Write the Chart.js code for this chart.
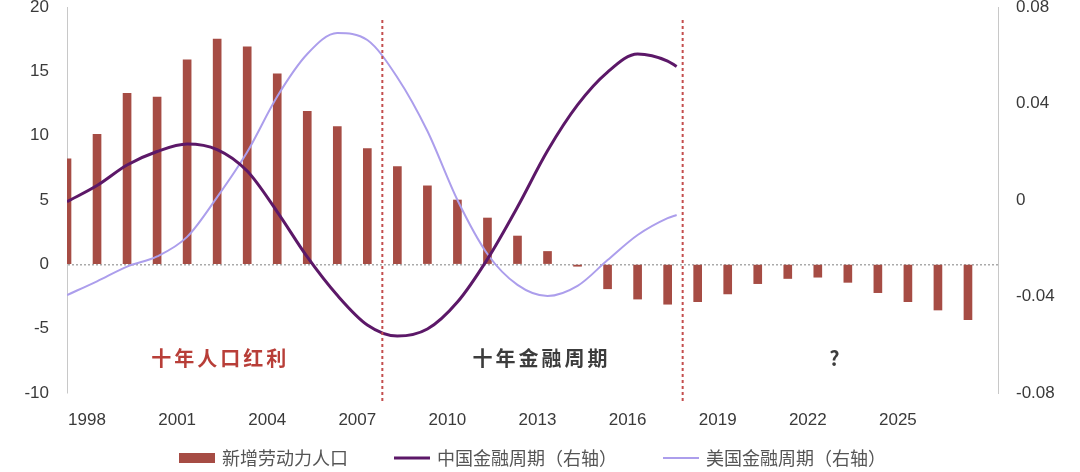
<!DOCTYPE html>
<html>
<head>
<meta charset="utf-8">
<script src="https://cdn.jsdelivr.net/npm/chart.js@4.4.1/dist/chart.umd.min.js"></script>
<style>
  html, body { margin: 0; padding: 0; background: #fff; }
  #wrap { width: 1080px; height: 472px; }
</style>
</head>
<body>
<div id="wrap"><canvas id="myChart"></canvas></div>
<script>
// 新增劳动力人口 (left axis)
var years = [1997, 1998, 1999, 2000, 2001, 2002, 2003, 2004, 2005, 2006, 2007, 2008, 2009, 2010, 2011, 2012,
             2013, 2014, 2015, 2016, 2017, 2018, 2019, 2020, 2021, 2022, 2023, 2024, 2025, 2026, 2027];
var laborValues = [8.2, 10.1, 13.3, 13.0, 15.9, 17.5, 16.9, 14.8, 11.9, 10.7, 9.0, 7.6, 6.1, 5.0, 3.6, 2.2,
                   1.0, -0.15, -1.9, -2.7, -3.1, -2.9, -2.3, -1.5, -1.1, -1.0, -1.4, -2.2, -2.9, -3.55, -4.3];

// 金融周期 (right axis)
var cycleYears = [1997, 1998, 1999, 2000, 2001, 2002, 2003, 2004, 2005, 2006, 2007, 2008, 2009, 2010, 2011,
                  2012, 2013, 2014, 2015, 2016, 2017, 2017.3];
var chinaCycle = [-0.0007, 0.0060, 0.0145, 0.0201, 0.0232, 0.0209, 0.0120, -0.0049, -0.0236, -0.0395, -0.0518,
                  -0.0564, -0.0535, -0.0423, -0.0245, -0.0029, 0.0204, 0.0394, 0.0530, 0.0605, 0.0576, 0.0553];
var usCycle = [-0.0394, -0.0337, -0.0276, -0.0234, -0.0153, 0.0012, 0.0199, 0.0429, 0.0605, 0.0692, 0.0663,
               0.0508, 0.0286, 0.0, -0.0224, -0.0352, -0.0398, -0.0356, -0.0249, -0.0145, -0.0075, -0.0062];

var seriesNames = ['新增劳动力人口', '中国金融周期（右轴）', '美国金融周期（右轴）'];

// period dividers and notes
var dividerYears = [2007.5, 2017.5];
var noteLabels = ['十年人口红利', '十年金融周期', '?'];
var noteYears = [2002.1, 2012.8, 2022.6];
var noteLevel = -7.35;

var colors = {
    bar: 'rgb(166, 76, 68)',
    china: 'rgb(92, 24, 104)',
    us: 'rgb(172, 158, 236)',
    divider: 'rgb(196, 78, 78)',
    noteRed: 'rgb(184, 62, 56)',
    noteDark: 'rgb(60, 60, 60)'
};

function toPoints(xs, ys) {
    return xs.map(function(x, i) { return {x: x, y: ys[i]}; });
}

var tickFont = {family: '"Liberation Sans", Arial, sans-serif', size: 17, lineHeight: 0.8};

var periodPlugin = {
    id: 'periods',
    afterDatasetsDraw: function(chart) {
        var ctx = chart.ctx;
        var xs = chart.scales.x, ys = chart.scales.y;
        ctx.save();
        ctx.strokeStyle = colors.divider;
        ctx.lineWidth = 2;
        ctx.setLineDash([3, 3]);
        dividerYears.forEach(function(yr) {
            var px = xs.getPixelForValue(yr);
            ctx.beginPath();
            ctx.moveTo(px, chart.chartArea.top + 13);
            ctx.lineTo(px, chart.chartArea.bottom + 9);
            ctx.stroke();
        });
        ctx.setLineDash([]);
        ctx.textAlign = 'center';
        ctx.textBaseline = 'middle';
        ctx.font = 'bold 20px "Noto Sans CJK SC", sans-serif';
        ctx.letterSpacing = '3px';
        noteLabels.forEach(function(t, i) {
            ctx.fillStyle = i === 0 ? colors.noteRed : colors.noteDark;
            ctx.fillText(t, xs.getPixelForValue(noteYears[i]), ys.getPixelForValue(noteLevel));
        });
        ctx.restore();
    }
};

// legend drawn by hand so the spacing can follow the original
var legendPlugin = {
    id: 'bottomLegend',
    afterDraw: function(chart) {
        var ctx = chart.ctx;
        var sw = 36, gap = 7, itemGap = 46, cy = 458;
        ctx.save();
        ctx.font = '18px "Noto Sans CJK SC", sans-serif';
        ctx.textBaseline = 'middle';
        var sets = chart.data.datasets;
        var total = 0;
        sets.forEach(function(ds, i) {
            total += sw + gap + ctx.measureText(ds.label).width + (i < sets.length - 1 ? itemGap : 0);
        });
        var x = (chart.chartArea.left + chart.chartArea.right) / 2 - total / 2;
        sets.forEach(function(ds) {
            if (ds.type === 'bar') {
                ctx.fillStyle = ds.backgroundColor;
                ctx.fillRect(x, cy - 5, sw, 10);
            } else {
                ctx.strokeStyle = ds.borderColor;
                ctx.lineWidth = ds.borderWidth;
                ctx.beginPath();
                ctx.moveTo(x, cy);
                ctx.lineTo(x + sw, cy);
                ctx.stroke();
            }
            x += sw + gap;
            ctx.fillStyle = '#555';
            ctx.fillText(ds.label, x, cy);
            x += ctx.measureText(ds.label).width + itemGap;
        });
        ctx.restore();
    }
};

new Chart(document.getElementById('myChart').getContext('2d'), {
    type: 'bar',
    data: {
        datasets: [{
            type: 'bar',
            label: seriesNames[0],
            data: toPoints(years, laborValues),
            backgroundColor: colors.bar,
            barThickness: 8,
            yAxisID: 'y',
            order: 3
        }, {
            type: 'line',
            label: seriesNames[1],
            data: toPoints(cycleYears, chinaCycle),
            borderColor: colors.china,
            backgroundColor: colors.china,
            borderWidth: 3,
            pointRadius: 0,
            tension: 0.4,
            cubicInterpolationMode: 'monotone',
            fill: false,
            yAxisID: 'y1',
            order: 1
        }, {
            type: 'line',
            label: seriesNames[2],
            data: toPoints(cycleYears, usCycle),
            borderColor: colors.us,
            backgroundColor: colors.us,
            borderWidth: 2,
            pointRadius: 0,
            tension: 0.4,
            cubicInterpolationMode: 'monotone',
            fill: false,
            yAxisID: 'y1',
            order: 2
        }]
    },
    options: {
        responsive: true,
        maintainAspectRatio: false,
        animation: false,
        layout: {padding: {top: 7, left: 0, right: 0, bottom: 0}},
        plugins: {
            legend: {display: false},
            tooltip: {enabled: false}
        },
        scales: {
            x: {
                type: 'linear',
                min: 1997,
                max: 2028,
                offset: false,
                grid: {display: false},
                border: {display: false},
                ticks: {
                    stepSize: 3,
                    includeBounds: false,
                    autoSkip: false,
                    maxRotation: 0,
                    padding: 13,
                    labelOffset: -10,
                    color: '#3a3a3a',
                    font: tickFont,
                    callback: function(v) { return v <= 2025 ? String(v) : ''; }
                },
                afterFit: function(s) { s.height = 79; }
            },
            y: {
                position: 'left',
                min: -10,
                max: 20,
                grid: {
                    drawTicks: true,
                    tickLength: 18,
                    tickColor: 'rgba(0,0,0,0)',
                    color: function(c) { return c.tick && c.tick.value === 0 ? '#aaaaaa' : 'rgba(0,0,0,0)'; },
                    lineWidth: 1.5
                },
                border: {display: true, color: '#c8c8c8', dash: [2, 2]},
                ticks: {stepSize: 5, padding: 0, color: '#3a3a3a', font: tickFont},
                afterFit: function(s) { s.width = 67; }
            },
            y1: {
                position: 'right',
                min: -0.08,
                max: 0.08,
                grid: {
                    drawOnChartArea: false,
                    drawTicks: true,
                    tickLength: 18,
                    tickColor: 'rgba(0,0,0,0)',
                    color: 'rgba(0,0,0,0)'
                },
                border: {display: true, color: '#c8c8c8'},
                ticks: {
                    stepSize: 0.04,
                    padding: 0,
                    color: '#3a3a3a',
                    font: tickFont,
                    callback: function(v) { return Math.abs(v) < 1e-9 ? '0' : v.toFixed(2); }
                },
                afterFit: function(s) { s.width = 82; }
            }
        }
    },
    plugins: [periodPlugin, legendPlugin]
});
</script>
</body>
</html>
